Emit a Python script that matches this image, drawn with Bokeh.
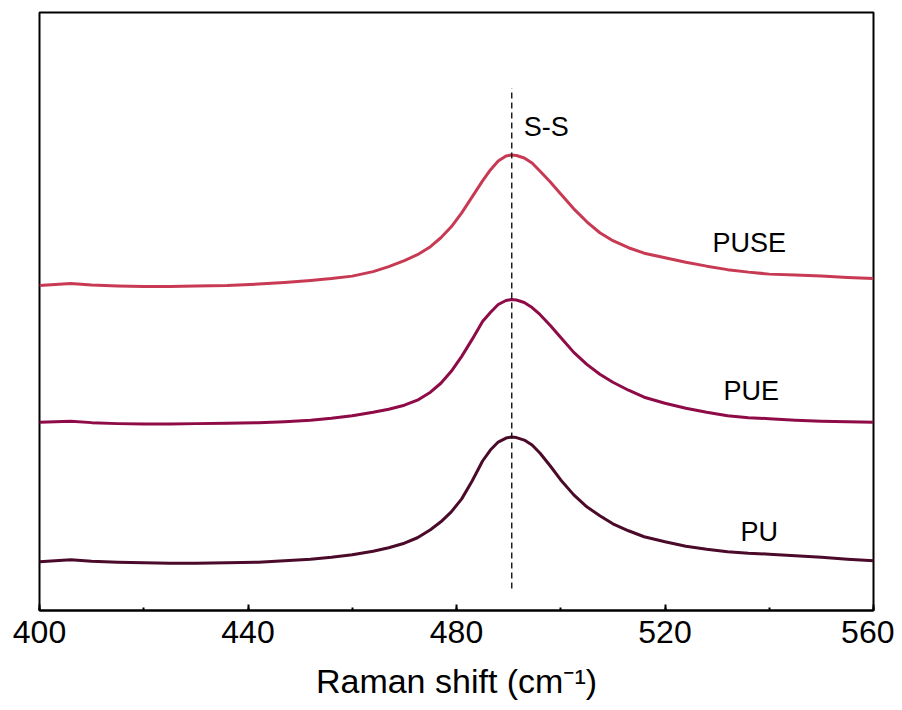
from bokeh.plotting import figure
from bokeh.models import Range1d, SingleIntervalTicker, ColumnDataSource
from bokeh.embed import file_html
from bokeh.resources import INLINE
from bokeh.core.properties import value

# ---- data (arbitrary intensity units, offset stacked) ----
raman_shift = [400, 403, 406, 410, 415, 420, 425, 430, 436, 442, 447, 452, 456, 460, 464, 467,
               470, 472.5, 475, 477, 479, 481, 483, 485, 486.5, 488, 489.5, 490.5, 491.5, 493,
               494.5, 496, 498, 500, 502.5, 505, 507.5, 510, 513, 516, 520, 524, 528, 532, 536,
               540, 545, 550, 555, 560]

puse = [326, 327, 328, 326.5, 325.5, 325, 325, 325.5, 326, 327.5, 329, 331, 333, 335.5, 340, 345,
        351, 357, 365, 374, 385, 399, 415, 431, 442, 451, 456, 457, 456.5, 454,
        449, 441, 430, 418, 403, 390, 379, 371, 364, 358.5, 354, 349.5, 345.5, 342, 339.5,
        337.5, 336.5, 335.5, 334, 333]

pue = [189, 189.5, 190, 188.5, 187.5, 187, 187, 187.5, 188, 188.5, 189.5, 191, 193, 195.5, 199, 202,
       206, 211, 219, 228, 240, 255, 272, 290, 299, 307, 311, 312, 311.5, 309,
       304, 297, 286, 274, 259, 247, 237, 229, 221, 214, 208, 203, 199, 195.5, 193.5,
       192.5, 191, 190, 189.5, 189]

pu = [49, 50, 51, 49.5, 48.5, 48, 47.5, 47.5, 48, 48.5, 50, 51.5, 53.5, 56, 59.5, 63,
      67.5, 73, 81, 89, 99, 112, 130, 150, 161, 169, 173, 174, 173.5, 171,
      166, 158, 145, 131, 116, 104, 95, 87, 80, 74, 69, 64.5, 61.5, 59, 57.5,
      56.5, 55, 53.5, 51.5, 50]

series_names = ["PUSE", "PUE", "PU"]
series_colors = ["#C83A54", "#8E0B47", "#4B0A2A"]

peak_position = 490.6   # S-S band
x_ticks_interval = 40

# ---- figure ----
p = figure(width=894, height=702, output_backend="svg", toolbar_location=None,
           x_range=Range1d(400, 560), y_range=Range1d(0, 600),
           min_border_left=39, min_border_right=21, min_border_top=12, min_border_bottom=90)
p.background_fill_color = "white"
p.border_fill_color = "white"
p.grid.visible = False
p.yaxis.visible = False
p.outline_line_color = "black"
p.outline_line_width = 2
p.outline_line_alpha = 1.0

src = ColumnDataSource(dict(x=raman_shift, puse=puse, pue=pue, pu=pu))
for key, col in zip(["puse", "pue", "pu"], series_colors):
    p.line("x", key, source=src, line_color=col, line_width=3, line_join="round")

# dashed marker line for the S-S peak
p.segment(x0=[peak_position], y0=[22], x1=[peak_position], y1=[524],
          line_color="#111111", line_width=1.4, line_dash="6 4")

# labels
font = value("Liberation Sans")
p.text(x=[492.9], y=[485], text=["S-S"], text_font=font, text_font_size="27px",
       text_color="black", text_align="left", text_baseline="alphabetic")
p.text(x=[529.1, 531.2, 534.5], y=[369, 220, 79], text=series_names, text_font=font,
       text_font_size="27px", text_color="black", text_align="left",
       text_baseline="alphabetic")

# x axis
ax = p.xaxis[0]
ax.ticker = SingleIntervalTicker(interval=x_ticks_interval, num_minor_ticks=2)
ax.axis_line_width = 2
ax.axis_line_color = "black"
ax.major_tick_in = 6
ax.major_tick_out = 0
ax.minor_tick_in = 3
ax.minor_tick_out = 0
ax.major_tick_line_width = 2
ax.minor_tick_line_width = 2
ax.major_label_text_font = "Liberation Sans"
ax.major_label_text_font_size = "32px"
ax.major_label_text_color = "black"
ax.major_label_standoff = 10
ax.axis_label = "Raman shift (cm\u207b\u00b9)"
ax.axis_label_text_font = "Liberation Sans"
ax.axis_label_text_font_size = "34px"
ax.axis_label_text_font_style = "normal"
ax.axis_label_text_color = "black"
ax.axis_label_standoff = 16

open("out.html", "w").write(file_html(p, INLINE))
